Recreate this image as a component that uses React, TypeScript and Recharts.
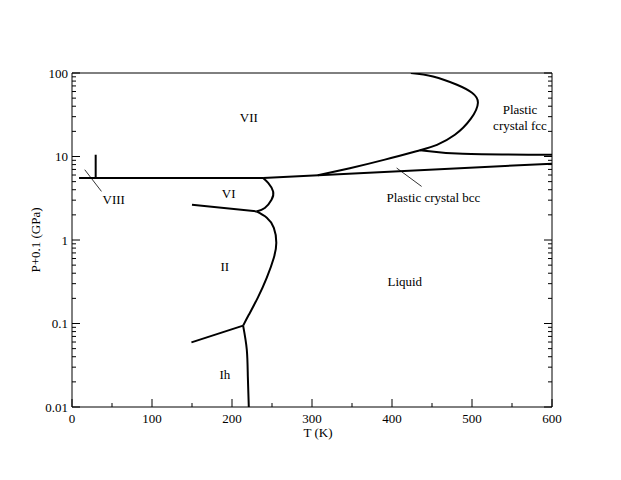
import React from "react";
import { ComposedChart, Line, Scatter, XAxis, YAxis } from "recharts";

type Pt = { t: number; p: number };

// phase boundaries, T in K, P+0.1 in GPa
const viiViii: Pt[] = [
  { t: 8.8, p: 5.53 },
  { t: 238.9, p: 5.53 },
];
const viiiSpur: Pt[] = [
  { t: 29.6, p: 10.5 },
  { t: 29.6, p: 5.53 },
];
const viLoop: Pt[] = [
  { t: 238.9, p: 5.53 },
  { t: 245.2, p: 4.82 },
  { t: 251.4, p: 3.82 },
  { t: 249.4, p: 3.04 },
  { t: 241, p: 2.42 },
  { t: 230.6, p: 2.2 },
];
const viII: Pt[] = [
  { t: 150, p: 2.65 },
  { t: 230.6, p: 2.2 },
];
const iiLiquid: Pt[] = [
  { t: 230.6, p: 2.2 },
  { t: 243.5, p: 1.85 },
  { t: 252.3, p: 1.4 },
  { t: 255.4, p: 0.93 },
  { t: 252.3, p: 0.614 },
  { t: 243.5, p: 0.354 },
  { t: 232.3, p: 0.204 },
  { t: 221, p: 0.127 },
  { t: 213.9, p: 0.0942 },
];
const iiIh: Pt[] = [
  { t: 149.3, p: 0.0594 },
  { t: 213.9, p: 0.0942 },
];
const ihLiquid: Pt[] = [
  { t: 213.9, p: 0.0942 },
  { t: 218.5, p: 0.0485 },
  { t: 219.8, p: 0.0231 },
  { t: 221, p: 0.01 },
];
const bccLower: Pt[] = [
  { t: 238.9, p: 5.53 },
  { t: 600, p: 8.2 },
];
const fccNose: Pt[] = [
  { t: 307.3, p: 5.96 },
  { t: 347.3, p: 7.24 },
  { t: 391.1, p: 9.17 },
  { t: 434.9, p: 11.9 },
  { t: 456.2, p: 13.8 },
  { t: 478.6, p: 18.2 },
  { t: 498.6, p: 28.4 },
  { t: 507.4, p: 44.1 },
  { t: 500, p: 58.1 },
  { t: 481.2, p: 72.4 },
  { t: 451.3, p: 91 },
  { t: 423.6, p: 100 },
];
const fccBcc: Pt[] = [
  { t: 434.9, p: 11.9 },
  { t: 488.7, p: 10.8 },
  { t: 600, p: 10.5 },
];
const viiiPointer: Pt[] = [
  { t: 15.9, p: 6.95 },
  { t: 36.8, p: 3.82 },
];
const bccPointer: Pt[] = [
  { t: 405.8, p: 7.28 },
  { t: 437, p: 4.38 },
];

const phaseLabels = [
  { t: 221, p: 29.2, text: "VII" },
  { t: 195.9, p: 3.58, text: "VI" },
  { t: 52.2, p: 3.04, text: "VIII" },
  { t: 191, p: 0.483, text: "II" },
  { t: 191, p: 0.0244, text: "Ih" },
  { t: 416, p: 0.321, text: "Liquid" },
  { t: 560, p: 36.3, text: "Plastic" },
  { t: 560, p: 23.8, text: "crystal fcc" },
  { t: 451.8, p: 3.25, text: "Plastic crystal bcc" },
];

const xMajorTicks = [0, 100, 200, 300, 400, 500, 600];
const xMinorTicks = [50, 150, 250, 350, 450, 550];
const yMajorTicks = [0.01, 0.1, 1, 10, 100];
const yMinorMult = [2, 3, 4, 5, 6, 7, 8, 9];

const xTicks = [...xMajorTicks, ...xMinorTicks].sort((a, b) => a - b);
const yTicks: number[] = [];
yMajorTicks.forEach((d, i) => {
  yTicks.push(d);
  if (i < yMajorTicks.length - 1) yMinorMult.forEach((m) => yTicks.push(+(d * m).toPrecision(3)));
});

const FONT = "'Liberation Serif', 'Times New Roman', serif";

const XTick = ({ x, y, payload, top }: any) => {
  const major = xMajorTicks.includes(payload.value);
  const len = major ? 8 : 4;
  return (
    <g>
      <line x1={x} x2={x} y1={y} y2={top ? y + len : y - len} stroke="#000" />
      {!top && major && (
        <text x={x} y={y + 16} textAnchor="middle" fontSize={13} fontFamily={FONT} fill="#000">
          {payload.value}
        </text>
      )}
    </g>
  );
};

const YTick = ({ x, y, payload, right }: any) => {
  const major = yMajorTicks.includes(payload.value);
  const len = major ? 8 : 4;
  return (
    <g>
      <line x1={x} x2={right ? x - len : x + len} y1={y} y2={y} stroke="#000" />
      {!right && major && (
        <text x={x - 4} y={y + 4.5} textAnchor="end" fontSize={13} fontFamily={FONT} fill="#000">
          {String(payload.value)}
        </text>
      )}
    </g>
  );
};

const PhaseLabel = ({ cx, cy, payload }: any) => (
  <text x={cx} y={cy + 4.5} textAnchor="middle" fontSize={13} fontFamily={FONT} fill="#000">
    {payload.text}
  </text>
);

const boundary = (data: Pt[], key: string, curve: "linear" | "natural" = "linear", w = 2) => (
  <Line
    key={key}
    data={data}
    dataKey="p"
    type={curve}
    stroke="#000"
    strokeWidth={w}
    dot={false}
    activeDot={false}
    isAnimationActive={false}
  />
);

export default function App() {
  return (
    <div style={{ position: "absolute", left: 0, top: 0, width: 621, height: 480, background: "#fff" }}>
      <ComposedChart width={621} height={480} margin={{ top: 63, right: 59, bottom: 43, left: 32 }}>
        <XAxis
          xAxisId={0}
          dataKey="t"
          type="number"
          domain={[0, 600]}
          ticks={xTicks}
          interval={0}
          tickSize={0}
          tickMargin={0}
          tickLine={false}
          height={30}
          axisLine={{ stroke: "#000" }}
          tick={<XTick />}
          label={() => (
            <text x={318} y={436.5} textAnchor="middle" fontSize={13} fontFamily={FONT} fill="#000">
              T (K)
            </text>
          )}
        />
        <XAxis
          xAxisId="top"
          orientation="top"
          type="number"
          domain={[0, 600]}
          ticks={xTicks}
          interval={0}
          tickSize={0}
          tickMargin={0}
          tickLine={false}
          height={10}
          axisLine={{ stroke: "#000" }}
          tick={<XTick top />}
        />
        <YAxis
          yAxisId={0}
          type="number"
          scale="log"
          domain={[0.01, 100]}
          allowDataOverflow
          ticks={yTicks}
          interval={0}
          tickSize={0}
          tickMargin={0}
          tickLine={false}
          width={40}
          axisLine={{ stroke: "#000" }}
          tick={<YTick />}
          label={() => (
            <text
              x={35.5}
              y={240}
              dy={4.5}
              textAnchor="middle"
              fontSize={13}
              fontFamily={FONT}
              fill="#000"
              transform="rotate(-90, 35.5, 240)"
            >
              P+0.1 (GPa)
            </text>
          )}
        />
        <YAxis
          yAxisId="right"
          orientation="right"
          type="number"
          scale="log"
          domain={[0.01, 100]}
          allowDataOverflow
          ticks={yTicks}
          interval={0}
          tickSize={0}
          tickMargin={0}
          tickLine={false}
          width={10}
          axisLine={{ stroke: "#000" }}
          tick={<YTick right />}
        />
        {boundary(viiViii, "viiViii")}
        {boundary(viiiSpur, "viiiSpur")}
        {boundary(viLoop, "viLoop", "natural")}
        {boundary(viII, "viII")}
        {boundary(iiLiquid, "iiLiquid", "natural")}
        {boundary(iiIh, "iiIh")}
        {boundary(ihLiquid, "ihLiquid", "natural")}
        {boundary(bccLower, "bccLower")}
        {boundary(fccNose, "fccNose", "natural")}
        {boundary(fccBcc, "fccBcc", "natural")}
        {boundary(viiiPointer, "viiiPointer", "linear", 0.8)}
        {boundary(bccPointer, "bccPointer", "linear", 0.8)}
        <Scatter data={phaseLabels} dataKey="p" shape={<PhaseLabel />} isAnimationActive={false} />
      </ComposedChart>
    </div>
  );
}
